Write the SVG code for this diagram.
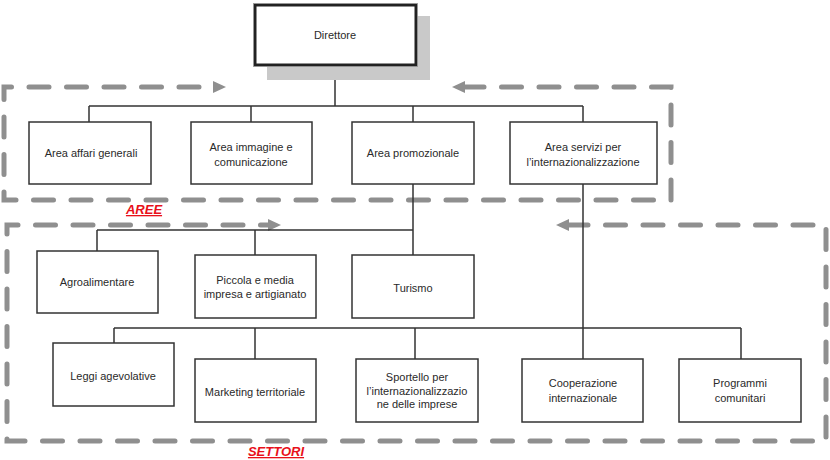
<svg xmlns="http://www.w3.org/2000/svg" width="830" height="460" viewBox="0 0 830 460">
<style>
.box{fill:#fff;stroke:#333;stroke-width:1.5}
.t{font-family:"Liberation Sans",Arial,sans-serif;font-size:11px;fill:#2a2a2a;text-anchor:middle}
.c{fill:none;stroke:#333;stroke-width:1.5}
.d{fill:none;stroke:#8f8f8f;stroke-width:5;stroke-linecap:round;stroke-dasharray:20 17.5}
.lbl{font-family:"Liberation Sans",Arial,sans-serif;font-size:13px;font-weight:bold;font-style:italic;text-decoration:underline;fill:#e8101a;text-anchor:middle}
</style>
<defs>
<marker id="ah" markerUnits="userSpaceOnUse" markerWidth="14" markerHeight="14" refX="1" refY="6" orient="auto-start-reverse" viewBox="0 0 14 12">
<path d="M0,0 L13,6 L0,12 z" fill="#8f8f8f"/>
</marker>
</defs>
<rect width="830" height="460" fill="#fff"/>

<g id="regions">
<path class="d" d="M464,87 L671,87 L671,200 L4,200 L4,87 L214,87" marker-start="url(#ah)" marker-end="url(#ah)"/>
<path class="d" d="M568,225 L826,225 L826,441 L7,441 L7,225 L269,225" marker-start="url(#ah)" marker-end="url(#ah)"/>
</g>

<g id="connectors">
<path class="c" d="M335,65 V106 M89,106 H583 M89,106 V122 M251,106 V122 M413,106 V122 M583,106 V122"/>
<path class="c" d="M413,184 V255 M97,230 H413 M97,230 V251 M255,230 V255"/>
<path class="c" d="M583,184 V359 M114,328 H741 M114,328 V343 M255,328 V359 M415,328 V359 M741,328 V359"/>
</g>

<g id="direttore">
<rect x="267" y="16" width="163" height="64" fill="#c9c9c9"/>
<rect x="255" y="5" width="161" height="60" fill="#fff" stroke="#222" stroke-width="3"/>
<rect x="253.5" y="3.5" width="164" height="63" fill="none" stroke="#999" stroke-width="0.8"/>
<text class="t" x="335" y="39">Direttore</text>
</g>

<g id="area-affari">
<rect class="box" x="29" y="122" width="122" height="62"/>
<text class="t" x="91" y="157">Area affari generali</text>
</g>
<g id="area-immagine">
<rect class="box" x="191" y="122" width="121" height="62"/>
<text class="t" x="251" y="151">Area immagine e</text>
<text class="t" x="251" y="166">comunicazione</text>
</g>
<g id="area-promozionale">
<rect class="box" x="352" y="122" width="122" height="62"/>
<text class="t" x="413" y="157">Area promozionale</text>
</g>
<g id="area-servizi">
<rect class="box" x="510" y="122" width="147" height="62"/>
<text class="t" x="583" y="151">Area servizi per</text>
<text class="t" x="583" y="166">l’internazionalizzazione</text>
</g>

<g id="agroalimentare">
<rect class="box" x="37" y="251" width="121" height="62"/>
<text class="t" x="97" y="286">Agroalimentare</text>
</g>
<g id="piccola">
<rect class="box" x="195" y="255" width="121" height="63"/>
<text class="t" x="255" y="284">Piccola e media</text>
<text class="t" x="255" y="298">impresa e artigianato</text>
</g>
<g id="turismo">
<rect class="box" x="352" y="255" width="122" height="63"/>
<text class="t" x="413" y="292">Turismo</text>
</g>

<g id="leggi">
<rect class="box" x="53" y="343" width="121" height="63"/>
<text class="t" x="113" y="380">Leggi agevolative</text>
</g>
<g id="marketing">
<rect class="box" x="195" y="359" width="121" height="63"/>
<text class="t" x="255" y="396">Marketing territoriale</text>
</g>
<g id="sportello">
<rect class="box" x="356" y="359" width="122" height="63"/>
<text class="t" x="417" y="381">Sportello per</text>
<text class="t" x="417" y="395">l’internazionalizzazio</text>
<text class="t" x="417" y="408">ne delle imprese</text>
</g>
<g id="cooperazione">
<rect class="box" x="522" y="359" width="121" height="63"/>
<text class="t" x="583" y="387">Cooperazione</text>
<text class="t" x="583" y="402">internazionale</text>
</g>
<g id="programmi">
<rect class="box" x="679" y="359" width="122" height="63"/>
<text class="t" x="740" y="387">Programmi</text>
<text class="t" x="740" y="402">comunitari</text>
</g>

<g id="labels">
<text class="lbl" x="144" y="214">AREE</text>
<text class="lbl" x="276" y="456">SETTORI</text>
</g>
</svg>
